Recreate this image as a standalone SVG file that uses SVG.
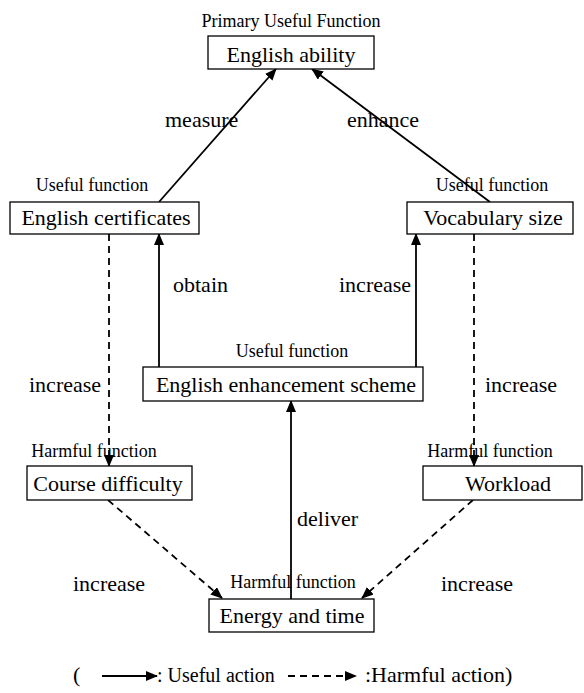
<svg xmlns="http://www.w3.org/2000/svg" width="584" height="693" viewBox="0 0 584 693">
<defs>
<marker id="ah" markerUnits="userSpaceOnUse" markerWidth="12" markerHeight="10" refX="11" refY="5" orient="auto">
<path d="M0,0 L12,5 L0,10 Z" fill="#000"/>
</marker>
<style>
.box{fill:#fff;stroke:#000;stroke-width:1.3}
.t{font-family:"Liberation Serif","Times New Roman",serif;font-size:22px;fill:#000;text-anchor:middle}
.s{font-family:"Liberation Serif","Times New Roman",serif;font-size:18px;fill:#000;text-anchor:middle}
.l{font-family:"Liberation Serif","Times New Roman",serif;font-size:22px;fill:#000}
.u{stroke:#000;stroke-width:1.8;fill:none;marker-end:url(#ah)}
.h{stroke:#000;stroke-width:1.8;fill:none;stroke-dasharray:7 5;marker-end:url(#ah)}
</style>
</defs>
<rect width="584" height="693" fill="#fff"/>
<g id="connectors">
<line class="u" x1="159" y1="202" x2="276" y2="69"/>
<line class="u" x1="490" y1="202" x2="312" y2="69"/>
<line class="u" x1="159" y1="367" x2="159" y2="234"/>
<line class="u" x1="416" y1="367" x2="416" y2="234"/>
<line class="h" x1="109" y1="234" x2="109" y2="466"/>
<line class="h" x1="474" y1="234" x2="474" y2="466"/>
<line class="h" x1="108" y1="500" x2="222" y2="598"/>
<line class="h" x1="473" y1="500" x2="362" y2="598"/>
<line class="u" x1="291" y1="599" x2="291" y2="401"/>
<text class="l" x="165" y="127">measure</text>
<text class="l" x="347" y="127">enhance</text>
<text class="l" x="173" y="292">obtain</text>
<text class="l" x="339" y="292">increase</text>
<text class="l" x="29" y="392">increase</text>
<text class="l" x="485" y="392">increase</text>
<text class="l" x="297" y="526">deliver</text>
<text class="l" x="73" y="591">increase</text>
<text class="l" x="441" y="591">increase</text>
</g>
<g id="english-ability">
<text class="s" x="291" y="27">Primary Useful Function</text>
<rect class="box" x="208" y="36" width="166" height="33"/>
<text class="t" x="291" y="62">English ability</text>
</g>
<g id="english-certificates">
<text class="s" x="92" y="191">Useful function</text>
<rect class="box" x="10" y="202" width="189" height="32"/>
<text class="t" x="106" y="225">English certificates</text>
</g>
<g id="vocabulary-size">
<text class="s" x="492" y="191">Useful function</text>
<rect class="box" x="407" y="202" width="166" height="32"/>
<text class="t" x="493" y="225">Vocabulary size</text>
</g>
<g id="english-enhancement-scheme">
<text class="s" x="292" y="357">Useful function</text>
<rect class="box" x="143" y="367" width="280" height="34"/>
<text class="t" x="286" y="392">English enhancement scheme</text>
</g>
<g id="course-difficulty">
<text class="s" x="94" y="457">Harmful function</text>
<rect class="box" x="27" y="466" width="165" height="34"/>
<text class="t" x="108" y="491">Course difficulty</text>
</g>
<g id="workload">
<text class="s" x="490" y="457">Harmful function</text>
<rect class="box" x="423" y="466" width="159" height="34"/>
<text class="t" x="508" y="491">Workload</text>
</g>
<g id="energy-and-time">
<text class="s" x="293" y="588">Harmful function</text>
<rect class="box" x="209" y="599" width="165" height="33"/>
<text class="t" x="292" y="623">Energy and time</text>
</g>
<g id="legend">
<text class="l" x="73" y="682">(</text>
<line class="u" x1="102" y1="676" x2="157" y2="676"/>
<text class="l" x="157" y="682" style="font-size:20px">: Useful action</text>
<line class="h" x1="288" y1="676" x2="356" y2="676"/>
<text class="l" x="365" y="682">:Harmful action)</text>
</g>
</svg>
